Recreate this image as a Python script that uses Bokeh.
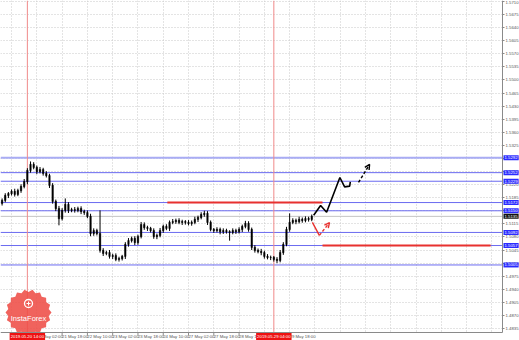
import math
from bokeh.plotting import figure
from bokeh.models import Range1d, FixedTicker, LinearAxis, Label, Arrow, OpenHead, Grid
from bokeh.embed import file_html
from bokeh.resources import INLINE

# ---------------- data ----------------
closes = [1.5178, 1.5191, 1.5196, 1.5202, 1.5194, 1.5204, 1.5215, 1.5228, 1.5258, 1.5274,
          1.5266, 1.5255, 1.5260, 1.5250, 1.5244, 1.5218, 1.5175, 1.5156, 1.5129, 1.5151,
          1.5167, 1.5151, 1.5153, 1.5151, 1.5156, 1.5148, 1.5145, 1.5135, 1.5089, 1.5097,
          1.5089, 1.5044, 1.5036, 1.5038, 1.5028, 1.5030, 1.5020, 1.5022, 1.5028, 1.5060,
          1.5070, 1.5076, 1.5065, 1.5081, 1.5113, 1.5105, 1.5103, 1.5097, 1.5081, 1.5084,
          1.5097, 1.5108, 1.5103, 1.5119, 1.5121, 1.5124, 1.5119, 1.5121, 1.5119, 1.5116,
          1.5119, 1.5127, 1.5132, 1.5140, 1.5143, 1.5119, 1.5100, 1.5097, 1.5100, 1.5094,
          1.5097, 1.5094, 1.5092, 1.5097, 1.5094, 1.5100, 1.5108, 1.5116, 1.5100, 1.5052,
          1.5044, 1.5041, 1.5038, 1.5028, 1.5025, 1.5025, 1.5020, 1.5017, 1.5038, 1.5060,
          1.5100, 1.5119, 1.5124, 1.5121, 1.5127, 1.5124, 1.5129, 1.5127, 1.5135]
first_open = 1.5170
hi_ext = [5, 6, 4, 5, 7, 5, 6, 7, 6, 8, 6, 5, 7, 5, 6, 5, 6, 5, 7, 6,
          16, 6, 5, 7, 5, 6, 5, 6, 7, 6, 5, 62, 6, 5, 7, 5, 6, 5, 4, 6,
          7, 5, 6, 5, 7, 6, 5, 4, 6, 5, 7, 5, 6, 5, 7, 5, 6, 5, 4, 6,
          5, 7, 5, 6, 7, 6, 5, 4, 6, 5, 6, 5, 4, 6, 5, 6, 5, 7, 6, 5,
          6, 5, 7, 5, 6, 5, 4, 6, 7, 6, 7, 24, 6, 5, 7, 5, 6, 5, 5]
lo_ext = [6, 5, 7, 5, 6, 5, 6, 5, 7, 6, 5, 7, 5, 6, 5, 7, 6, 7, 18, 5,
          6, 7, 5, 6, 5, 7, 6, 5, 7, 6, 5, 6, 7, 5, 6, 7, 5, 6, 5, 7,
          6, 5, 7, 6, 5, 6, 7, 5, 6, 7, 5, 6, 5, 7, 5, 6, 5, 7, 6, 5,
          6, 5, 7, 5, 6, 7, 5, 6, 5, 7, 6, 5, 22, 5, 6, 5, 7, 5, 6, 7,
          6, 5, 7, 6, 5, 7, 6, 7, 5, 6, 5, 6, 5, 7, 5, 6, 5, 6, 5]

time_ticks = [3, 11, 19, 27, 35, 43, 51, 59, 67, 75, 83, 91]
time_labels = ["20 May 10:00", "21 May 02:00", "21 May 18:00", "22 May 10:00",
               "23 May 02:00", "23 May 18:00", "24 May 10:00", "27 May 02:00",
               "27 May 18:00", "28 May 10:00", "29 May 02:00", "29 May 18:00"]
grid_ticks = [-5, 3, 11, 19, 27, 35, 43, 51, 59, 67, 75, 83, 91, 99, 107, 115,
              123, 131, 139, 147, 155]
price_ticks = [1.4835, 1.4870, 1.4905, 1.4940, 1.4975, 1.5010, 1.5045, 1.5080,
               1.5115, 1.5150, 1.5185, 1.5220, 1.5255, 1.5290, 1.5325, 1.5360,
               1.5395, 1.5430, 1.5465, 1.5500, 1.5535, 1.5570, 1.5605, 1.5640,
               1.5675, 1.5710]

blue_levels = [1.5252, 1.5229, 1.5172, 1.5150, 1.5092, 1.5057, 1.5005]
main_level = 1.5292
red_levels = [1.5172, 1.5057]
red_starts = [52.3, 101.4]
red_ends = [101.4, 154.6]
vlines = [8, 86]
vline_labels = ["2019.05.20 14:00", "2019.05.29 04:00"]

black_path_x = [98.6, 100.8, 102.7, 106.9, 108.4, 110.0, 110.2]
black_path_y = [1.5138, 1.5164, 1.5146, 1.5239, 1.5214, 1.5216, 1.5227]
black_dash = [(112.8, 1.5226), (116.3, 1.5274)]
red_path_x = [98.2, 100.4]
red_path_y = [1.5119, 1.5084]
red_dash = [(100.4, 1.5084), (103.6, 1.5118)]

# ---------------- geometry ----------------
px_per_bar = 3.16
py = 0.0002676                      # price per pixel
x0 = -0.5
x_end = x0 + 519 / px_per_bar       # whole canvas
x_frame = x0 + 502 / px_per_bar     # price scale sits here
y_top = 1.571268
y_bot = y_top - 340 * py
y_axis = y_top - 332 * py           # time scale sits here

n = len(closes)
xs = list(range(n))
opens = [first_open] + closes[:-1]
highs = [max(o, c) + h * 0.0001 for o, c, h in zip(opens, closes, hi_ext)]
lows = [min(o, c) - l * 0.0001 for o, c, l in zip(opens, closes, lo_ext)]
tops = [max(o, c) + 0.00004 for o, c in zip(opens, closes)]
bots = [min(o, c) - 0.00004 for o, c in zip(opens, closes)]

p = figure(width=519, height=340, output_backend="svg", toolbar_location=None,
           x_range=Range1d(x0, x_end), y_range=Range1d(y_bot, y_top),
           x_axis_location=None, y_axis_location=None,
           min_border_left=0, min_border_top=0, min_border_right=0, min_border_bottom=0,
           background_fill_color="white", border_fill_color="white",
           outline_line_color=None)
p.grid.visible = False

font = "Liberation Sans"
grid_kw = dict(grid_line_color="#c9c9c9", grid_line_dash="1 2", grid_line_width=1)
p.add_layout(Grid(dimension=0, ticker=FixedTicker(ticks=grid_ticks), **grid_kw))
p.add_layout(Grid(dimension=1, ticker=FixedTicker(ticks=price_ticks), **grid_kw))

# horizontal levels
p.line([x0, x_frame], [main_level, main_level], line_color="#a9acf4", line_width=2)
for lv in blue_levels:
    p.line([x0, x_frame], [lv, lv], line_color="#6b6bf0", line_width=1)
p.line([x0, x_frame], [closes[-1], closes[-1]], line_color="#c4c4c4", line_width=1)

# vertical red lines
for v in vlines:
    p.line([v, v], [y_axis, y_top], line_color="#f08a8a", line_width=1)

# red segments
for lv, a, b in zip(red_levels, red_starts, red_ends):
    p.line([a, b], [lv, lv], line_color="#e8312f", line_width=2)

# candles
p.segment(xs, highs, xs, lows, line_color="black", line_width=1)
p.vbar(x=xs, top=tops, bottom=bots, width=0.45, fill_color="black", line_color="black",
       line_width=0.5)

# projection
p.line(black_path_x, black_path_y, line_color="black", line_width=1.6)
p.add_layout(Arrow(end=OpenHead(size=5, line_color="black", line_width=1.4),
                   x_start=black_dash[0][0], y_start=black_dash[0][1],
                   x_end=black_dash[1][0], y_end=black_dash[1][1],
                   line_color="black", line_width=1.4, line_dash="3 2"))
p.line(red_path_x, red_path_y, line_color="#e8312f", line_width=1.4)
p.add_layout(Arrow(end=OpenHead(size=5, line_color="#e8312f", line_width=1.4),
                   x_start=red_dash[0][0], y_start=red_dash[0][1],
                   x_end=red_dash[1][0], y_end=red_dash[1][1],
                   line_color="#e8312f", line_width=1.4, line_dash="3 2"))

# white strips for the scales
p.quad(left=[x_frame], right=[x_end], bottom=[y_bot], top=[y_top], fill_color="white",
       line_color=None)
p.quad(left=[x0], right=[x_end], bottom=[y_bot], top=[y_axis], fill_color="white",
       line_color=None)

# logo
cx, cy = x0 + 28 / px_per_bar, y_top - 312 * py
sx = 1 / px_per_bar
pts = 36
lx = [cx + (23 if k % 2 == 0 else 20.5) * math.cos(2 * math.pi * k / pts) * sx for k in range(pts)]
ly = [cy + (23 if k % 2 == 0 else 20.5) * math.sin(2 * math.pi * k / pts) * py for k in range(pts)]
p.patch(lx, ly, fill_color="#ee4d47", fill_alpha=0.88, line_color=None)
p.add_layout(Label(x=cx, y=cy, y_offset=-6, text="InstaForex", text_font=font,
                   text_font_size="7.5px", text_color="white", text_align="center",
                   text_baseline="middle"))
p.scatter([cx], [cy + 9 * py], size=8, marker="circle", fill_color=None,
          line_color="white", line_width=1.3)
p.scatter([cx], [cy + 9 * py], size=4, marker="cross", line_color="white", line_width=1)

# time scale
xa = LinearAxis(fixed_location=y_axis, bounds=(x0, x_frame))
xa.ticker = FixedTicker(ticks=[t + 4.1 for t in time_ticks])
xa.major_label_overrides = {t + 4.1: l for t, l in zip(time_ticks, time_labels)}
p.add_layout(xa, "below")
p.segment(time_ticks, [y_axis] * len(time_ticks), time_ticks,
          [y_axis - 3 * py] * len(time_ticks), line_color="#8a8a8a", line_width=1)

# price scale
ya = LinearAxis(fixed_location=x_frame, bounds=(y_axis, y_top))
ya.ticker = FixedTicker(ticks=price_ticks)
ya.major_label_overrides = {t: f"{t:.4f}" for t in price_ticks}
p.add_layout(ya, "right")

for ax in (xa, ya):
    ax.major_label_text_font = font
    ax.major_label_text_font_size = "4.3px"
    ax.major_label_text_color = "#555555"
    ax.axis_line_color = "#8a8a8a"
    ax.major_tick_line_color = "#8a8a8a"
    ax.minor_tick_line_color = None
    ax.major_tick_in = 0
    ax.major_label_standoff = 1
xa.major_tick_out = 0
ya.major_tick_out = 2

# scale tags
for lv in [main_level] + blue_levels:
    p.add_layout(Label(x=x_frame, y=lv, x_offset=1, text=f"{lv:.4f}", text_font=font,
                       text_font_size="4.3px", text_color="white", text_baseline="middle",
                       background_fill_color="#2b2bff", padding=1))
p.add_layout(Label(x=x_frame, y=closes[-1], x_offset=1, text=f"{closes[-1]:.4f}",
                   text_font=font, text_font_size="4.3px", text_color="white",
                   text_baseline="middle", background_fill_color="#111111", padding=1))
for v, t in zip(vlines, vline_labels):
    p.add_layout(Label(x=v, y=y_axis, y_offset=-4, text=t, text_font=font, text_align="center",
                       text_font_size="4.3px", text_color="white", text_baseline="middle",
                       background_fill_color="#ee1111", padding=1))

open("out.html", "w").write(file_html(p, INLINE))
